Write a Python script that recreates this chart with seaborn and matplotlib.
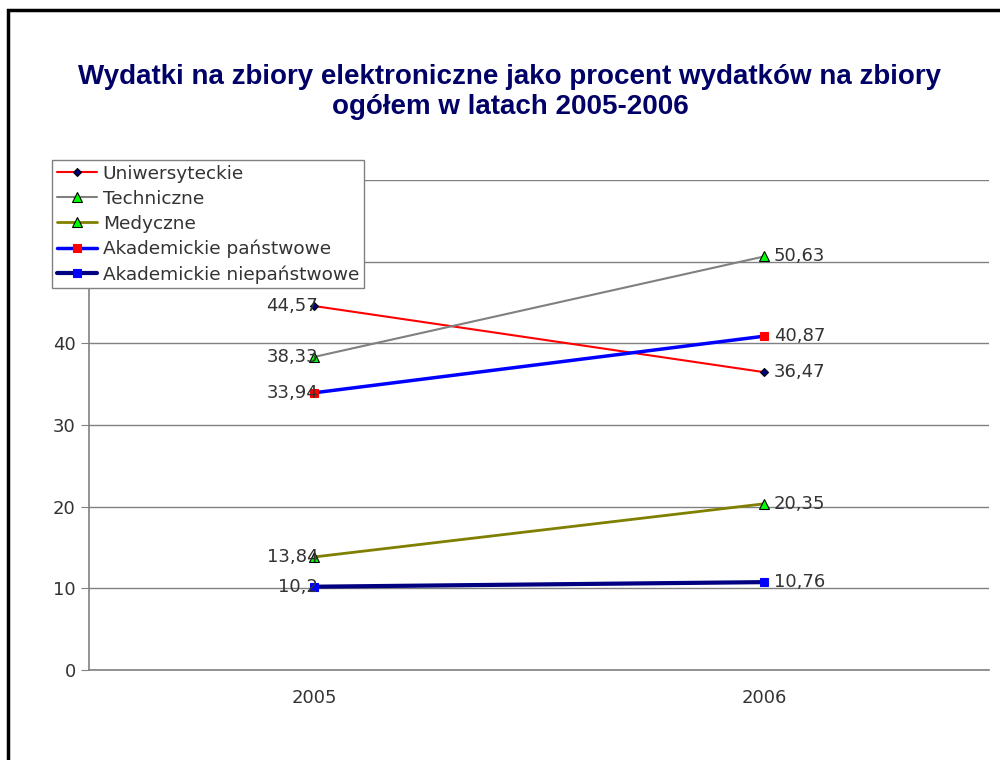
import pandas as pd
import matplotlib.pyplot as plt
import seaborn as sns
from matplotlib.patches import Rectangle
from matplotlib import font_manager

sns.set_style("white")
plt.rcParams['font.family'] = ['DejaVu Sans']

# data
years = ['2005', '2006']
series_names = ['Uniwersyteckie', 'Techniczne', 'Medyczne',
                'Akademickie państwowe', 'Akademickie niepaństwowe']
uniwersyteckie = [44.57, 36.47]
techniczne = [38.33, 50.63]
medyczne = [13.84, 20.35]
akad_panstwowe = [33.94, 40.87]
akad_niepanstwowe = [10.2, 10.76]
values = [uniwersyteckie, techniczne, medyczne, akad_panstwowe, akad_niepanstwowe]

# styles: line colour, width, marker, marker face, marker edge, marker size
styles = [
    ('#FF0000', 1.5, 'D', '#000080', '#000000', 4),
    ('#808080', 1.5, '^', '#00FF00', '#000000', 6.5),
    ('#808000', 2.0, '^', '#00FF00', '#000000', 6.5),
    ('#0000FF', 2.5, 's', '#FF0000', '#FF0000', 6),
    ('#000080', 3.0, 's', '#0000FF', '#0000FF', 6),
]

# title font: regular-width Liberation Sans Bold (not the Narrow variant)
title_font = None
for f in font_manager.fontManager.ttflist:
    if f.name == 'Liberation Sans' and f.weight in (700, 'bold') and 'Narrow' not in f.fname \
            and 'Italic' not in f.fname:
        title_font = font_manager.FontProperties(fname=f.fname, size=20)
        break
if title_font is None:
    title_font = font_manager.FontProperties(family='DejaVu Sans', weight='bold', size=17)

fig = plt.figure(figsize=(10, 7.6), dpi=100)
ax = fig.add_axes([0.089, 0.1184, 0.90, 0.6448])

for name, vals, st in zip(series_names, values, styles):
    df = pd.DataFrame({'rok': years, 'wartosc': vals})
    sns.lineplot(data=df, x='rok', y='wartosc', ax=ax, color=st[0], lw=st[1],
                 marker=st[2], markerfacecolor=st[3], markeredgecolor=st[4],
                 markersize=st[5], markeredgewidth=0.8, label=name)

# data labels
for vals in values:
    ax.annotate(f"{vals[0]:g}".replace('.', ','), (0, vals[0]), xytext=(3, 0),
                textcoords='offset points', ha='right', va='center',
                fontsize=13, color='#333333')
    ax.annotate(f"{vals[1]:g}".replace('.', ','), (1, vals[1]), xytext=(7, 0),
                textcoords='offset points', ha='left', va='center',
                fontsize=13, color='#333333')

ax.set_xlim(-0.5, 1.5)
ax.set_ylim(0, 60)
ax.set_yticks(range(0, 61, 10))
ax.set_xticks([0, 1])
ax.set_xticklabels(years)
ax.set_xticks([-0.5, 0.5, 1.5], minor=True)
ax.set_xlabel('')
ax.set_ylabel('')
ax.tick_params(axis='x', which='major', length=0, pad=14, labelsize=13, labelcolor='#333333')
ax.tick_params(axis='x', which='minor', length=6, color='#808080', direction='out')
ax.tick_params(axis='y', length=6, color='#808080', direction='out', labelsize=13,
               labelcolor='#333333', left=True)
ax.yaxis.grid(True, color='#808080', lw=1)
ax.set_axisbelow(True)
for s in ['top', 'right']:
    ax.spines[s].set_visible(False)
for s in ['left', 'bottom']:
    ax.spines[s].set_color('#808080')
    ax.spines[s].set_linewidth(1.2)

leg = ax.legend(loc='upper left', bbox_to_anchor=(0.052, 1 - 160 / 760),
                bbox_transform=fig.transFigure, frameon=True, fancybox=False,
                framealpha=1, fontsize=13.3, labelspacing=0.38, handlelength=2.2,
                handletextpad=0.3, borderpad=0.25, borderaxespad=0)
leg.get_frame().set_edgecolor('#808080')
leg.get_frame().set_linewidth(1)
for t in leg.get_texts():
    t.set_color('#333333')

fig.text(0.51, 1 - 92 / 760,
         'Wydatki na zbiory elektroniczne jako procent wydatków na zbiory\nogółem w latach 2005-2006',
         ha='center', va='center', fontproperties=title_font, color='#000066',
         linespacing=1.15)

fig.patches.append(Rectangle((0.008, -0.2), 1.3, 1.2 - 10 / 760, transform=fig.transFigure,
                             fill=False, lw=2.5, ec='black'))

plt.savefig('out.png', dpi=100)
